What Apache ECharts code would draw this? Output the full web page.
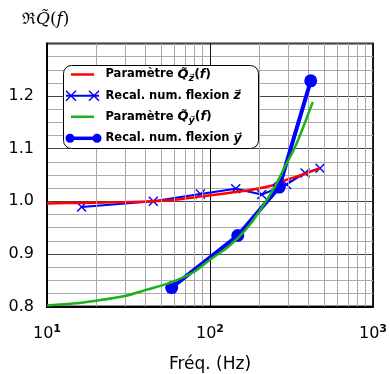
<!DOCTYPE html>
<html>
<head>
<meta charset="utf-8">
<script src="https://cdn.jsdelivr.net/npm/echarts@6/dist/echarts.min.js"></script>
<style>html,body{margin:0;padding:0;background:#fff;}#c{width:390px;height:374px;}</style>
</head>
<body>
<div id="c"></div>
<script>
// ---- data ----
const freqRed   = [10, 16, 25, 45, 65, 87, 110, 139, 180, 233, 290, 380, 473];
const valRed    = [0.996, 0.997, 0.998, 1.000, 1.004, 1.009, 1.013, 1.017, 1.022, 1.029, 1.040, 1.052, 1.063];

const freqCross = [16.3, 44.9, 87.3, 143.8, 207.5, 295, 383, 473];
const valCross  = [0.989, 1.000, 1.014, 1.024, 1.013, 1.032, 1.054, 1.063];

const freqGreen = [10, 15, 20, 30, 41, 58, 80, 100, 125, 148, 175, 203, 244, 282, 340, 427];
const valGreen  = [0.802, 0.806, 0.811, 0.820, 0.832, 0.846, 0.866, 0.889, 0.910, 0.930, 0.955, 0.983, 1.022, 1.060, 1.110, 1.189];

const freqDot   = [58.2, 148, 266, 415];
const valDot    = [0.836, 0.935, 1.027, 1.229];

const xMinorGrid = [20, 30, 40, 50, 60, 70, 80, 90, 200, 300, 400, 500, 600, 700, 800, 900];
const yTickLabels = ['0.8', '0.9', '1.0', '1.1', '1.2'];

const seriesNames = ['Paramètre Q̃z(f)', 'Recal. num. flexion z', 'Paramètre Q̃y(f)', 'Recal. num. flexion y'];

const pair = (xs, ys) => xs.map((x, i) => [x, ys[i]]);

const crossPath = 'path://M0,1L1,0L5,4L9,0L10,1L6,5L10,9L9,10L5,6L1,10L0,9L4,5Z';
const SANS = 'DejaVu Sans';

const chart = echarts.init(document.getElementById('c'), null, {renderer: 'canvas'});

const legTextRich = {
  b: {fontFamily: SANS, fontWeight: 'bold', fontSize: 11.5, color: '#000'},
  q: {fontFamily: SANS, fontWeight: 'bold', fontStyle: 'italic', fontSize: 13, color: '#000'},
  s: {fontFamily: SANS, fontWeight: 'bold', fontStyle: 'italic', fontSize: 9.5, color: '#000', padding: [8, 0, 0, 0]},
  p: {fontFamily: SANS, fontWeight: 'bold', fontSize: 12.5, color: '#000'},
  i: {fontFamily: SANS, fontWeight: 'bold', fontStyle: 'italic', fontSize: 12.5, color: '#000'}
};

function crossGraphic(cx, cy, h) {
  return [
    {type: 'line', z: 101, shape: {x1: cx - h, y1: cy - h, x2: cx + h, y2: cy + h}, style: {stroke: '#0000ff', lineWidth: 1.5}},
    {type: 'line', z: 101, shape: {x1: cx - h, y1: cy + h, x2: cx + h, y2: cy - h}, style: {stroke: '#0000ff', lineWidth: 1.5}}
  ];
}

const rows = [74.5, 95.7, 116.8, 138.3];
const textX = 105.5;

const graphic = [
  {type: 'rect', z: 100, shape: {x: 63.5, y: 65.5, width: 195, height: 83, r: 8}, style: {fill: '#fff', stroke: '#000', lineWidth: 1}},
  {type: 'line', z: 101, shape: {x1: 71, y1: rows[0], x2: 94, y2: rows[0]}, style: {stroke: '#ff0000', lineWidth: 2.5}},
  {type: 'line', z: 101, shape: {x1: 66, y1: rows[1], x2: 99, y2: rows[1]}, style: {stroke: '#0000ff', lineWidth: 2}},
  ...crossGraphic(71, rows[1], 5),
  ...crossGraphic(94, rows[1], 5),
  {type: 'line', z: 101, shape: {x1: 71, y1: rows[2], x2: 94, y2: rows[2]}, style: {stroke: '#19b219', lineWidth: 2.5}},
  {type: 'line', z: 101, shape: {x1: 70, y1: rows[3], x2: 97, y2: rows[3]}, style: {stroke: '#0000ff', lineWidth: 3.5}},
  {type: 'circle', z: 101, shape: {cx: 70, cy: rows[3], r: 4.5}, style: {fill: '#0000ff'}},
  {type: 'circle', z: 101, shape: {cx: 97, cy: rows[3], r: 4.5}, style: {fill: '#0000ff'}},
  {type: 'text', z: 101, x: textX, y: rows[0], style: {text: '{b|Paramètre }{q|Q̃}{s|z⃗}{p|(}{i|f}{p|)}', rich: legTextRich, verticalAlign: 'middle'}},
  {type: 'text', z: 101, x: textX, y: rows[1], style: {text: '{b|Recal. num. flexion }{i|z⃗}', rich: legTextRich, verticalAlign: 'middle'}},
  {type: 'text', z: 101, x: textX, y: rows[2], style: {text: '{b|Paramètre }{q|Q̃}{s|y⃗}{p|(}{i|f}{p|)}', rich: legTextRich, verticalAlign: 'middle'}},
  {type: 'text', z: 101, x: textX, y: rows[3], style: {text: '{b|Recal. num. flexion }{i|y⃗}', rich: legTextRich, verticalAlign: 'middle'}}
];

const option = {
  animation: false,
  backgroundColor: '#fff',
  title: {
    left: 17, top: 6,
    text: '{r|ℜ}{q|Q̃}{n|(}{q|f}{n|)}',
    textStyle: {
      fontWeight: 'normal',
      rich: {
        r: {fontFamily: 'DejaVu Serif', fontWeight: 'normal', fontSize: 16, color: '#000'},
        q: {fontFamily: 'DejaVu Serif', fontWeight: 'normal', fontStyle: 'italic', fontSize: 17, color: '#000'},
        n: {fontFamily: 'DejaVu Serif', fontWeight: 'normal', fontSize: 17, color: '#000'}
      }
    }
  },
  grid: {left: 47, right: 17, top: 43.5, bottom: 67.5, containLabel: false, outerBoundsMode: 'none', show: true, borderColor: '#222', borderWidth: 2, backgroundColor: 'transparent'},
  xAxis: {
    type: 'log', logBase: 10, min: 10, max: 1000,
    name: 'Fréq. (Hz)', nameLocation: 'middle', nameGap: 50,
    nameTextStyle: {fontFamily: SANS, fontSize: 17, color: '#000'},
    axisLine: {show: true, lineStyle: {color: '#000', width: 2}},
    axisTick: {show: false},
    splitLine: {show: true, lineStyle: {color: '#111', width: 1}},
    axisLabel: {
      margin: 17,
      formatter: v => '{n|10}{s|' + Math.round(Math.log10(v)) + '}',
      rich: {
        n: {fontFamily: SANS, fontSize: 16, color: '#000'},
        s: {fontFamily: SANS, fontSize: 11, fontWeight: 'bold', color: '#000', padding: [0, 0, 9, 0]}
      }
    }
  },
  yAxis: {
    type: 'value', min: 0.8, max: 1.3, interval: 0.1,
    axisLine: {show: true, lineStyle: {color: '#000', width: 2}},
    axisTick: {show: false},
    axisLabel: {
      margin: 13, showMaxLabel: false,
      fontFamily: SANS, fontSize: 16, color: '#000',
      formatter: v => { const i = Math.round((v - 0.8) * 10); return yTickLabels[i] !== undefined ? yTickLabels[i] : ''; }
    },
    splitLine: {show: true, lineStyle: {color: '#444', width: 1}},
    minorTick: {show: false, splitNumber: 4},
    minorSplitLine: {show: true, lineStyle: {color: '#aaa', width: 1}}
  },
  series: [
    {
      name: 'xgrid', type: 'line', data: [], z: 1, silent: true,
      markLine: {
        silent: true, symbol: ['none', 'none'], label: {show: false}, animation: false,
        lineStyle: {color: '#a8a8a8', type: 'solid', width: 1},
        emphasis: {disabled: true},
        data: xMinorGrid.map(v => ({xAxis: v}))
      }
    },
    {
      name: seriesNames[1], type: 'line', z: 3,
      data: pair(freqCross, valCross),
      lineStyle: {color: '#0000ff', width: 2},
      itemStyle: {color: '#0000ff'},
      symbol: crossPath, symbolSize: 10, showAllSymbol: true
    },
    {
      name: seriesNames[0], type: 'line', z: 4, smooth: 0.3,
      data: pair(freqRed, valRed),
      lineStyle: {color: '#ff0000', width: 2.5},
      itemStyle: {color: '#ff0000'},
      showSymbol: false, symbol: 'none'
    },
    {
      name: seriesNames[3], type: 'line', z: 5,
      data: pair(freqDot, valDot),
      lineStyle: {color: '#0000ff', width: 4},
      itemStyle: {color: '#0000ff'},
      symbol: 'circle', symbolSize: 13, showAllSymbol: true
    },
    {
      name: seriesNames[2], type: 'line', z: 6, smooth: 0.3,
      data: pair(freqGreen, valGreen),
      lineStyle: {color: '#19b219', width: 2.5},
      itemStyle: {color: '#19b219'},
      showSymbol: false, symbol: 'none'
    }
  ],
  graphic: graphic
};

chart.setOption(option);
</script>
</body>
</html>
